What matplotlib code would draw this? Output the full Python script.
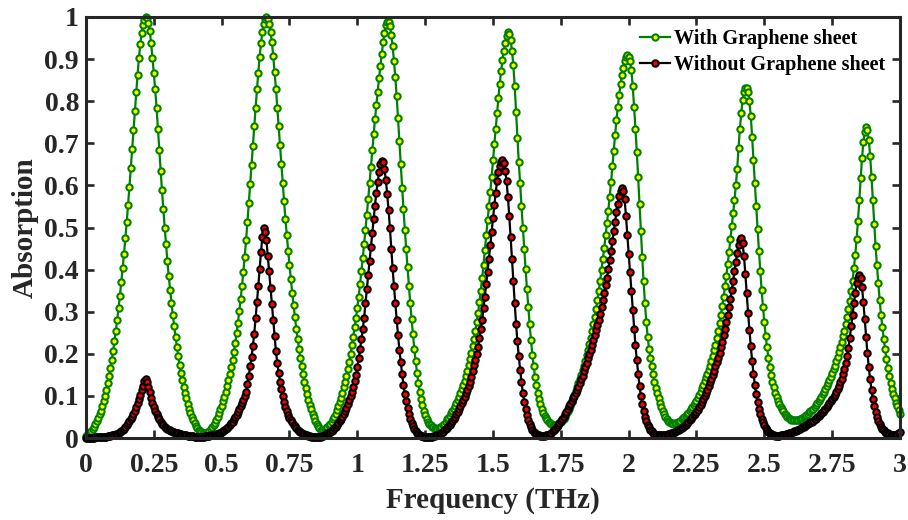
import numpy as np
import matplotlib
matplotlib.use("Agg")
import matplotlib.pyplot as plt

# Frequency sweep (THz): 0 to 3 THz in 0.005 THz steps
freq_start, freq_stop = 0.0, 3.0

# Absorption with the graphene sheet (one row per 0.1 THz)
absorption_with_graphene = [
    0.004, 0.006, 0.009, 0.012, 0.016, 0.021, 0.027, 0.033, 0.040, 0.048, 0.056, 0.065, 0.076, 0.088, 0.100, 0.115, 0.131, 0.148, 0.166, 0.186,
    0.207, 0.230, 0.255, 0.281, 0.309, 0.338, 0.370, 0.403, 0.437, 0.474, 0.512, 0.553, 0.596, 0.641, 0.686, 0.731, 0.776, 0.822, 0.863, 0.902,
    0.935, 0.961, 0.981, 0.993, 0.999, 0.997, 0.986, 0.966, 0.938, 0.903, 0.866, 0.828, 0.785, 0.735, 0.685, 0.635, 0.588, 0.543, 0.500, 0.460,
    0.420, 0.384, 0.351, 0.321, 0.292, 0.265, 0.240, 0.217, 0.194, 0.174, 0.155, 0.137, 0.121, 0.107, 0.094, 0.081, 0.070, 0.060, 0.051, 0.043,
    0.035, 0.029, 0.024, 0.020, 0.016, 0.014, 0.012, 0.011, 0.011, 0.012, 0.014, 0.017, 0.021, 0.025, 0.030, 0.036, 0.043, 0.051, 0.059, 0.068,
    0.077, 0.087, 0.098, 0.110, 0.123, 0.137, 0.152, 0.168, 0.186, 0.205, 0.226, 0.249, 0.274, 0.301, 0.330, 0.361, 0.395, 0.431, 0.470, 0.513,
    0.558, 0.603, 0.648, 0.694, 0.740, 0.785, 0.828, 0.868, 0.906, 0.938, 0.964, 0.983, 0.995, 1.000, 0.996, 0.984, 0.965, 0.940, 0.908, 0.870,
    0.830, 0.785, 0.740, 0.695, 0.650, 0.605, 0.562, 0.520, 0.482, 0.445, 0.410, 0.377, 0.345, 0.315, 0.287, 0.260, 0.235, 0.212, 0.190, 0.170,
    0.151, 0.134, 0.118, 0.104, 0.091, 0.079, 0.068, 0.058, 0.049, 0.041, 0.034, 0.028, 0.023, 0.019, 0.017, 0.018, 0.020, 0.023, 0.026, 0.030,
    0.034, 0.039, 0.044, 0.051, 0.058, 0.066, 0.075, 0.085, 0.095, 0.107, 0.120, 0.133, 0.147, 0.163, 0.180, 0.199, 0.220, 0.241, 0.263, 0.285,
    0.309, 0.336, 0.365, 0.396, 0.428, 0.461, 0.495, 0.530, 0.567, 0.605, 0.644, 0.683, 0.721, 0.757, 0.791, 0.823, 0.854, 0.884, 0.913, 0.940,
    0.963, 0.980, 0.989, 0.989, 0.978, 0.958, 0.930, 0.896, 0.857, 0.812, 0.760, 0.705, 0.650, 0.595, 0.543, 0.495, 0.450, 0.405, 0.362, 0.320,
    0.282, 0.246, 0.212, 0.182, 0.155, 0.131, 0.110, 0.093, 0.078, 0.065, 0.054, 0.046, 0.039, 0.034, 0.030, 0.027, 0.025, 0.023, 0.022, 0.022,
    0.023, 0.025, 0.027, 0.031, 0.034, 0.039, 0.044, 0.048, 0.053, 0.059, 0.064, 0.070, 0.077, 0.084, 0.091, 0.098, 0.107, 0.116, 0.126, 0.136,
    0.148, 0.160, 0.173, 0.187, 0.202, 0.218, 0.235, 0.254, 0.275, 0.297, 0.322, 0.350, 0.380, 0.412, 0.447, 0.483, 0.518, 0.552, 0.585, 0.620,
    0.660, 0.698, 0.735, 0.772, 0.808, 0.842, 0.872, 0.898, 0.920, 0.938, 0.954, 0.965, 0.960, 0.945, 0.920, 0.885, 0.835, 0.775, 0.712, 0.655,
    0.605, 0.550, 0.500, 0.450, 0.402, 0.355, 0.312, 0.270, 0.232, 0.198, 0.170, 0.146, 0.126, 0.108, 0.093, 0.080, 0.069, 0.060, 0.053, 0.047,
    0.042, 0.038, 0.035, 0.033, 0.031, 0.030, 0.029, 0.030, 0.032, 0.035, 0.038, 0.042, 0.046, 0.051, 0.057, 0.063, 0.070, 0.077, 0.085, 0.094,
    0.103, 0.112, 0.121, 0.130, 0.140, 0.150, 0.161, 0.172, 0.184, 0.197, 0.210, 0.224, 0.238, 0.253, 0.270, 0.288, 0.307, 0.327, 0.350, 0.374,
    0.400, 0.425, 0.452, 0.481, 0.510, 0.540, 0.573, 0.607, 0.645, 0.682, 0.720, 0.755, 0.787, 0.815, 0.840, 0.862, 0.880, 0.895, 0.905, 0.910,
    0.906, 0.895, 0.873, 0.835, 0.787, 0.735, 0.680, 0.620, 0.556, 0.492, 0.430, 0.372, 0.320, 0.276, 0.240, 0.212, 0.190, 0.170, 0.151, 0.134,
    0.119, 0.106, 0.094, 0.083, 0.073, 0.064, 0.056, 0.050, 0.045, 0.041, 0.038, 0.036, 0.035, 0.034, 0.035, 0.036, 0.037, 0.039, 0.041, 0.044,
    0.047, 0.050, 0.053, 0.056, 0.060, 0.064, 0.069, 0.073, 0.078, 0.084, 0.089, 0.095, 0.102, 0.110, 0.118, 0.127, 0.135, 0.144, 0.153, 0.162,
    0.172, 0.183, 0.195, 0.208, 0.222, 0.238, 0.255, 0.273, 0.292, 0.313, 0.336, 0.360, 0.385, 0.413, 0.442, 0.472, 0.503, 0.534, 0.565, 0.600,
    0.640, 0.690, 0.735, 0.772, 0.802, 0.822, 0.832, 0.832, 0.822, 0.800, 0.765, 0.715, 0.660, 0.605, 0.550, 0.497, 0.445, 0.397, 0.352, 0.311,
    0.275, 0.243, 0.215, 0.190, 0.169, 0.150, 0.134, 0.120, 0.108, 0.098, 0.089, 0.081, 0.074, 0.068, 0.063, 0.058, 0.054, 0.050, 0.047, 0.044,
    0.043, 0.042, 0.042, 0.042, 0.042, 0.043, 0.044, 0.046, 0.048, 0.050, 0.052, 0.055, 0.058, 0.061, 0.063, 0.066, 0.070, 0.074, 0.078, 0.083,
    0.087, 0.092, 0.098, 0.104, 0.110, 0.116, 0.123, 0.130, 0.137, 0.145, 0.154, 0.163, 0.172, 0.182, 0.193, 0.205, 0.216, 0.229, 0.242, 0.255,
    0.270, 0.287, 0.306, 0.326, 0.348, 0.374, 0.403, 0.435, 0.472, 0.515, 0.565, 0.618, 0.665, 0.702, 0.728, 0.738, 0.731, 0.708, 0.670, 0.620,
    0.565, 0.508, 0.455, 0.410, 0.368, 0.328, 0.292, 0.263, 0.236, 0.211, 0.188, 0.166, 0.147, 0.131, 0.117, 0.105, 0.094, 0.084, 0.075, 0.066,
    0.057,
]

# Absorption without the graphene sheet (one row per 0.1 THz)
absorption_without_graphene = [
    0.001, 0.001, 0.001, 0.001, 0.001, 0.001, 0.001, 0.002, 0.002, 0.002, 0.002, 0.002, 0.003, 0.003, 0.003, 0.003, 0.004, 0.005, 0.005, 0.006,
    0.007, 0.008, 0.009, 0.010, 0.012, 0.014, 0.016, 0.018, 0.022, 0.026, 0.030, 0.035, 0.040, 0.045, 0.050, 0.057, 0.065, 0.073, 0.083, 0.092,
    0.102, 0.113, 0.124, 0.135, 0.141, 0.134, 0.122, 0.109, 0.096, 0.084, 0.074, 0.065, 0.057, 0.050, 0.044, 0.038, 0.034, 0.030, 0.027, 0.024,
    0.022, 0.020, 0.018, 0.016, 0.015, 0.014, 0.013, 0.012, 0.011, 0.010, 0.009, 0.008, 0.007, 0.006, 0.006, 0.005, 0.005, 0.004, 0.004, 0.004,
    0.003, 0.003, 0.003, 0.003, 0.003, 0.003, 0.003, 0.003, 0.004, 0.004, 0.005, 0.005, 0.006, 0.006, 0.007, 0.008, 0.009, 0.010, 0.012, 0.013,
    0.015, 0.017, 0.019, 0.022, 0.024, 0.027, 0.031, 0.035, 0.039, 0.044, 0.049, 0.055, 0.061, 0.068, 0.075, 0.083, 0.091, 0.100, 0.110, 0.128,
    0.148, 0.170, 0.193, 0.218, 0.248, 0.284, 0.322, 0.362, 0.402, 0.442, 0.478, 0.498, 0.490, 0.470, 0.433, 0.396, 0.357, 0.318, 0.280, 0.243,
    0.206, 0.178, 0.155, 0.134, 0.116, 0.099, 0.085, 0.073, 0.063, 0.055, 0.048, 0.042, 0.037, 0.032, 0.028, 0.024, 0.020, 0.017, 0.014, 0.012,
    0.010, 0.009, 0.007, 0.006, 0.005, 0.004, 0.003, 0.003, 0.002, 0.002, 0.002, 0.002, 0.003, 0.003, 0.004, 0.005, 0.007, 0.009, 0.011, 0.013,
    0.015, 0.017, 0.020, 0.023, 0.027, 0.031, 0.035, 0.040, 0.045, 0.050, 0.057, 0.064, 0.072, 0.081, 0.090, 0.100, 0.110, 0.122, 0.135, 0.150,
    0.168, 0.190, 0.212, 0.234, 0.258, 0.286, 0.320, 0.355, 0.388, 0.420, 0.453, 0.487, 0.520, 0.552, 0.582, 0.608, 0.632, 0.650, 0.659, 0.655,
    0.640, 0.613, 0.580, 0.542, 0.500, 0.450, 0.403, 0.360, 0.320, 0.281, 0.244, 0.210, 0.180, 0.152, 0.127, 0.105, 0.087, 0.072, 0.058, 0.046,
    0.036, 0.028, 0.021, 0.016, 0.012, 0.009, 0.007, 0.005, 0.004, 0.003, 0.002, 0.002, 0.002, 0.002, 0.003, 0.003, 0.004, 0.005, 0.006, 0.008,
    0.009, 0.010, 0.012, 0.015, 0.018, 0.021, 0.024, 0.028, 0.032, 0.036, 0.040, 0.045, 0.050, 0.056, 0.062, 0.068, 0.075, 0.082, 0.090, 0.098,
    0.106, 0.114, 0.123, 0.134, 0.146, 0.160, 0.173, 0.186, 0.200, 0.217, 0.237, 0.258, 0.280, 0.308, 0.336, 0.365, 0.394, 0.425, 0.458, 0.490,
    0.522, 0.553, 0.583, 0.610, 0.632, 0.647, 0.656, 0.660, 0.653, 0.635, 0.610, 0.572, 0.527, 0.477, 0.425, 0.372, 0.320, 0.270, 0.230, 0.194,
    0.162, 0.132, 0.108, 0.086, 0.068, 0.054, 0.042, 0.033, 0.025, 0.019, 0.015, 0.011, 0.009, 0.007, 0.006, 0.005, 0.005, 0.005, 0.005, 0.006,
    0.007, 0.008, 0.010, 0.013, 0.016, 0.019, 0.022, 0.026, 0.031, 0.036, 0.041, 0.046, 0.051, 0.057, 0.062, 0.068, 0.075, 0.081, 0.088, 0.094,
    0.100, 0.107, 0.114, 0.122, 0.130, 0.139, 0.148, 0.158, 0.168, 0.178, 0.189, 0.199, 0.210, 0.222, 0.233, 0.245, 0.256, 0.268, 0.281, 0.294,
    0.310, 0.327, 0.345, 0.363, 0.381, 0.401, 0.422, 0.444, 0.467, 0.491, 0.514, 0.537, 0.557, 0.575, 0.587, 0.593, 0.587, 0.567, 0.528, 0.482,
    0.438, 0.394, 0.349, 0.304, 0.260, 0.220, 0.185, 0.153, 0.123, 0.100, 0.080, 0.064, 0.051, 0.040, 0.032, 0.025, 0.020, 0.016, 0.013, 0.010,
    0.008, 0.007, 0.006, 0.006, 0.006, 0.006, 0.007, 0.007, 0.008, 0.009, 0.010, 0.011, 0.012, 0.013, 0.015, 0.016, 0.018, 0.020, 0.022, 0.024,
    0.026, 0.029, 0.032, 0.035, 0.038, 0.042, 0.046, 0.050, 0.054, 0.058, 0.062, 0.067, 0.073, 0.079, 0.085, 0.092, 0.100, 0.107, 0.115, 0.123,
    0.132, 0.141, 0.150, 0.160, 0.170, 0.180, 0.191, 0.202, 0.215, 0.229, 0.244, 0.259, 0.275, 0.292, 0.311, 0.330, 0.352, 0.374, 0.396, 0.418,
    0.440, 0.459, 0.471, 0.474, 0.462, 0.432, 0.390, 0.344, 0.298, 0.257, 0.218, 0.184, 0.153, 0.127, 0.104, 0.085, 0.069, 0.056, 0.046, 0.037,
    0.030, 0.024, 0.019, 0.015, 0.012, 0.010, 0.008, 0.006, 0.005, 0.005, 0.005, 0.005, 0.006, 0.006, 0.007, 0.008, 0.009, 0.010, 0.011, 0.012,
    0.013, 0.014, 0.016, 0.017, 0.019, 0.020, 0.022, 0.024, 0.026, 0.027, 0.029, 0.031, 0.033, 0.035, 0.037, 0.039, 0.041, 0.044, 0.046, 0.049,
    0.052, 0.055, 0.059, 0.062, 0.066, 0.070, 0.074, 0.078, 0.083, 0.087, 0.092, 0.097, 0.103, 0.110, 0.117, 0.124, 0.132, 0.141, 0.152, 0.164,
    0.178, 0.194, 0.214, 0.238, 0.265, 0.293, 0.320, 0.345, 0.367, 0.381, 0.387, 0.380, 0.358, 0.323, 0.283, 0.240, 0.201, 0.168, 0.139, 0.114,
    0.093, 0.076, 0.062, 0.050, 0.041, 0.033, 0.027, 0.022, 0.018, 0.015, 0.013, 0.011, 0.010, 0.008, 0.008, 0.007, 0.007, 0.008, 0.010, 0.012,
    0.014,
]

series_labels = ["With Graphene sheet", "Without Graphene sheet"]
x_ticks = [0, 0.25, 0.5, 0.75, 1, 1.25, 1.5, 1.75, 2, 2.25, 2.5, 2.75, 3]
x_tick_labels = ["0", "0.25", "0.5", "0.75", "1", "1.25", "1.5", "1.75", "2", "2.25", "2.5", "2.75", "3"]
y_ticks = [0, 0.1, 0.2, 0.3, 0.4, 0.5, 0.6, 0.7, 0.8, 0.9, 1]
y_tick_labels = ["0", "0.1", "0.2", "0.3", "0.4", "0.5", "0.6", "0.7", "0.8", "0.9", "1"]

freq = np.linspace(freq_start, freq_stop, len(absorption_with_graphene))

plt.rcParams["font.family"] = ["Liberation Serif", "DejaVu Serif"]
plt.rcParams["font.weight"] = "bold"
ink = "#262626"

fig = plt.figure(figsize=(9.08, 5.2), dpi=100)
ax = fig.add_axes([86 / 908, 82 / 520, 814 / 908, 421 / 520])

ax.plot(freq, absorption_with_graphene, color="#008000", linewidth=1.6,
        marker="o", markersize=4.5, markeredgewidth=1.5,
        markerfacecolor="#ffff00", markeredgecolor="#008000",
        label=series_labels[0], clip_on=False, zorder=3)
ax.plot(freq, absorption_without_graphene, color="black", linewidth=1.6,
        marker="o", markersize=4.6, markeredgewidth=1.5,
        markerfacecolor="#ff0000", markeredgecolor="black",
        label=series_labels[1], clip_on=False, zorder=4)

ax.set_xlim(0, 3)
ax.set_ylim(0, 1)
ax.set_xticks(x_ticks)
ax.set_xticklabels(x_tick_labels)
ax.set_yticks(y_ticks)
ax.set_yticklabels(y_tick_labels)

ax.tick_params(axis="both", which="both", direction="in", length=5.5, width=1.9,
               colors=ink, labelsize=20, top=True, right=True)
ax.tick_params(axis="x", pad=11)
ax.tick_params(axis="y", pad=5)
for side in ax.spines.values():
    side.set_linewidth(2.2)
    side.set_color(ink)
    side.set_zorder(5)

ax.set_xlabel("Frequency (THz)", fontsize=21, fontweight="bold", color=ink, labelpad=6)
ax.set_ylabel("Absorption", fontsize=21, fontweight="bold", color=ink, labelpad=4)

leg = ax.legend(loc="upper left", bbox_to_anchor=(640 / 908, 1 - 29 / 520),
                bbox_transform=fig.transFigure, frameon=False, fontsize=14.5,
                handlelength=1.5, handletextpad=0.2, labelspacing=0.28,
                borderpad=0, borderaxespad=0, numpoints=1)
for txt in leg.get_texts():
    txt.set_color("black")
    txt.set_fontweight("bold")

fig.savefig("out.png", dpi=100)
